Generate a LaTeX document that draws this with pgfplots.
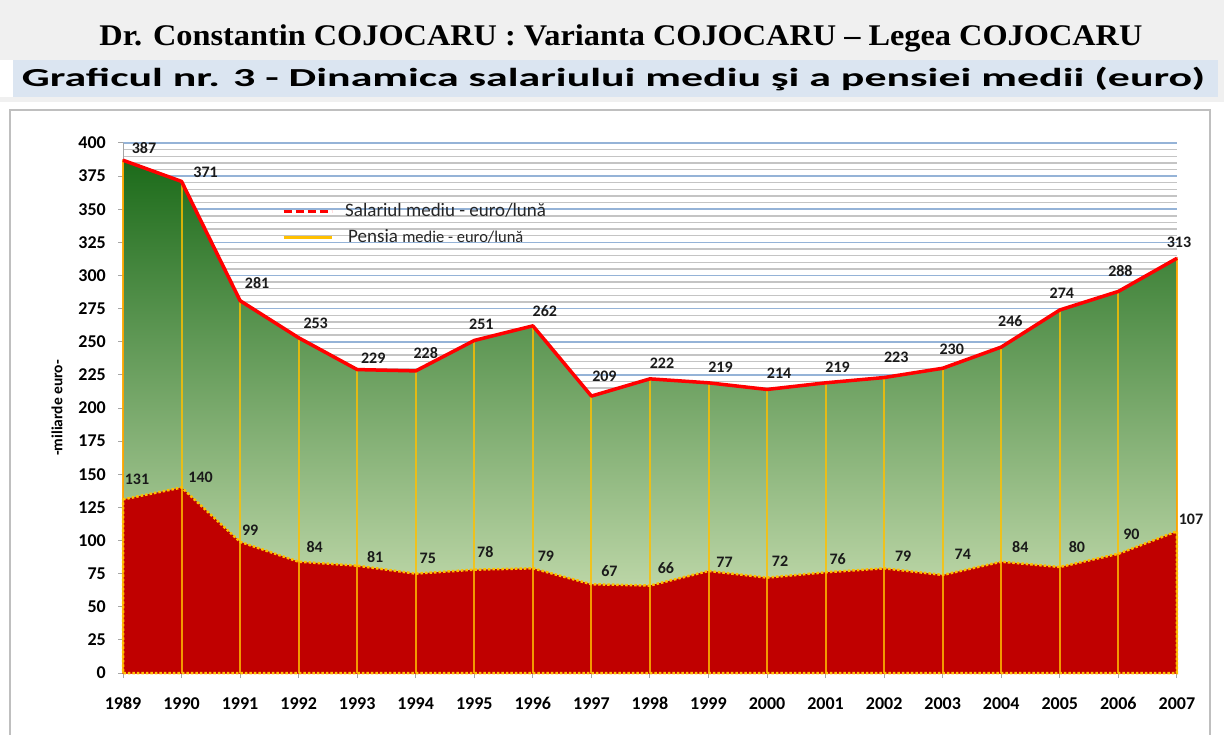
\documentclass[border=0pt]{standalone}
\usepackage{pgfplots}
\pgfplotsset{compat=1.18}
\usepackage{pgfplotstable}
\usepackage{fontspec}
\setmainfont{Carlito}
\newfontfamily\serifbold{Liberation Serif}
\usepackage{graphicx}

\definecolor{salred}{RGB}{255,0,0}
\definecolor{saledge}{RGB}{230,50,30}
\definecolor{penyel}{RGB}{255,192,0}
\definecolor{penred}{RGB}{192,0,0}
\definecolor{gtop}{RGB}{28,107,26}
\definecolor{gmid}{RGB}{100,155,72}
\definecolor{gbot}{RGB}{220,235,195}
\definecolor{majgrid}{RGB}{149,179,215}
\definecolor{mingrid}{RGB}{196,196,196}
\definecolor{bandgray}{RGB}{240,240,240}
\definecolor{bandblue}{RGB}{219,229,241}
\definecolor{framegray}{RGB}{191,191,191}
\definecolor{lbl}{RGB}{26,26,26}
\definecolor{legtext}{RGB}{38,38,38}

\pgfplotstableread{
year sal sdx sdy pen pdx pdy
1989 387 21 12 131 14 20
1990 371 24 9 140 19 10
1991 281 17 18 99 10 12
1992 253 17 14 84 16 15
1993 229 16 11 81 18 9
1994 228 10 18 75 12 15
1995 251 7 16 78 11 18
1996 262 12 15 79 13 12
1997 209 13 20 67 18 13
1998 222 12 16 66 16 17
1999 219 12 16 77 16 9
2000 214 12 16 72 13 16
2001 219 12 16 76 12 13
2002 223 12 20 79 19 12
2003 230 9 19 74 20 21
2004 246 9 26 84 19 15
2005 274 2 17 80 17 20
2006 288 2 20 90 13 19
2007 313 2 16 107 14 12
}\datatable

\begin{document}
\begin{tikzpicture}[x=1pt,y=1pt]
\path[use as bounding box] (0pt,0pt) rectangle (1224pt,-735pt);
\begin{scope}
\clip (0pt,0pt) rectangle (1224pt,-735pt);
\fill[white] (0pt,0pt) rectangle (1224pt,-735pt);
\fill[bandgray] (0pt,0pt) rectangle (1224pt,-60pt);
\fill[bandgray] (0pt,-97pt) rectangle (1224pt,-102pt);
\fill[bandgray] (1218pt,-60pt) rectangle (1224pt,-97pt);
\fill[bandblue] (13pt,-60pt) rectangle (1218pt,-97pt);
\draw[framegray, line width=2pt] (10pt,-110pt) rectangle (1210pt,-745pt);
\end{scope}
\node[anchor=base, inner sep=0pt] at (621pt,-46pt) {\resizebox{1043pt}{\height}{\serifbold\bfseries\fontsize{30}{30}\selectfont Dr. Constantin COJOCARU : Varianta COJOCARU – Legea COJOCARU}};
\node[anchor=base, inner sep=0pt] at (613.5pt,-87pt) {\resizebox{1183pt}{\height}{\bfseries\fontsize{26}{26}\selectfont Graficul nr. 3 - Dinamica salariului mediu şi a pensiei medii (euro)}};
\begin{axis}[
  at={(123pt,-673pt)}, anchor=south west,
  scale only axis, width=1054pt, height=530pt,
  xmin=1989, xmax=2007, ymin=0, ymax=400,
  clip=false,
  xtick={1989,...,2007}, ytick={0,25,...,400},
  minor y tick num=4,
  axis x line*=bottom, axis y line*=left,
  axis line style={draw=gray!70, line width=1pt, -},
  tick style={draw=gray!70, line width=1pt},
  tick align=outside, major tick length=5pt, minor tick length=0pt,
  ymajorgrids, yminorgrids,
  major grid style={draw=majgrid, line width=1.5pt},
  minor grid style={draw=mingrid, line width=1.3pt},
  /pgf/number format/assume math mode=true,
  /pgf/number format/1000 sep={},
  ticklabel style={font=\bfseries\fontsize{18}{18}\selectfont, text=black, inner sep=0pt},
  yticklabel style={anchor=east, xshift=-12pt},
  xticklabel style={anchor=north, yshift=-19pt},
  ylabel={-miliarde euro-},
  ylabel style={at={(axis description cs:-0.0626,0.5)}, anchor=center, font=\bfseries\fontsize{15.5}{15.5}\selectfont},
  legend image code/.code={\draw[#1] (0pt,0pt) -- (48pt,0pt);},
  legend cell align=left,
  legend style={at={(axis description cs:0.1509,0.8453)}, anchor=west, draw=none, fill=none, inner sep=0pt, row sep=8pt, column sep=12pt, font=\fontsize{19}{19}\selectfont, text=legtext, nodes={inner sep=0pt, text height=14pt, text depth=4pt}},
]
\addlegendimage{salred, line width=3pt, dash pattern=on 8pt off 4pt}
\addlegendentry{Salariul mediu - euro/lună}
\addlegendimage{penyel, line width=3pt}
\addlegendentry{\hspace*{3pt}Pensia {\fontsize{16.5}{16.5}\selectfont medie - euro/lună}}

\addplot[forget plot, draw=saledge, line width=1.5pt, top color=gtop, middle color=gmid, bottom color=gbot] table[x=year,y=sal]{\datatable} \closedcycle;
\addplot[forget plot, fill=penred, draw=penyel, line width=2.5pt, dash pattern=on 2.5pt off 2pt] table[x=year,y=pen]{\datatable} \closedcycle;
\addplot[forget plot, ycomb, draw=penyel, draw opacity=0.8, line width=2pt] table[x=year,y=sal]{\datatable};
\addplot[forget plot, draw=salred, line width=3.5pt, line join=round] table[x=year,y=sal]{\datatable};

\addplot[forget plot, draw=none, mark=none, nodes near coords, point meta=explicit,
  visualization depends on={\thisrow{sdx}\as\sdx},
  visualization depends on={\thisrow{sdy}\as\sdy},
  every node near coord/.append style={anchor=center, inner sep=0pt, xshift=\sdx, yshift=\sdy, font=\bfseries\fontsize{16}{16}\selectfont, text=lbl}]
  table[x=year,y=sal,meta=sal]{\datatable};
\addplot[forget plot, draw=none, mark=none, nodes near coords, point meta=explicit,
  visualization depends on={\thisrow{pdx}\as\pdx},
  visualization depends on={\thisrow{pdy}\as\pdy},
  every node near coord/.append style={anchor=center, inner sep=0pt, xshift=\pdx, yshift=\pdy, font=\bfseries\fontsize{16}{16}\selectfont, text=lbl}]
  table[x=year,y=pen,meta=pen]{\datatable};
\end{axis}
\end{tikzpicture}
\end{document}
